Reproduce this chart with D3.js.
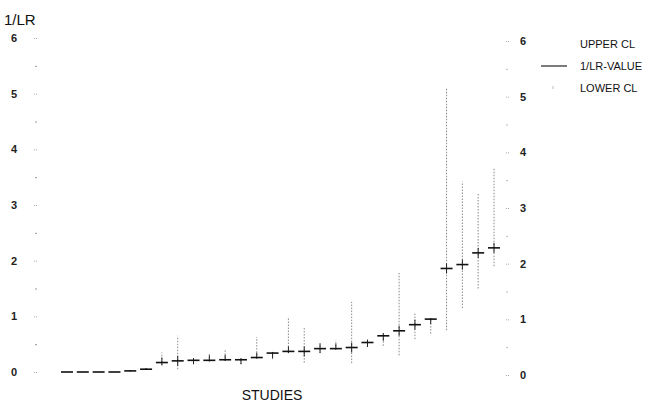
<!DOCTYPE html>
<html><head><meta charset="utf-8">
<script src="https://cdn.jsdelivr.net/npm/d3@7"></script>
<style>body{margin:0;background:#fff;}svg{display:block;font-family:"Liberation Sans",Arial,sans-serif;}</style>
</head><body>
<script>
const studies = d3.range(1, 29).map(String);
const values = [0.00,0.00,0.00,0.00,0.02,0.05,0.17,0.20,0.21,0.21,0.22,0.22,0.26,0.34,0.37,0.37,0.42,0.42,0.44,0.53,0.65,0.74,0.85,0.95,1.86,1.93,2.14,2.23];
const upperCL = [0.00,0.00,0.00,0.00,0.03,0.07,0.35,0.65,0.25,0.35,0.41,0.25,0.63,0.36,0.99,0.80,0.52,0.57,1.26,0.58,0.70,1.78,1.06,0.97,5.10,3.42,3.20,3.66];
const lowerCL = [0.00,0.00,0.00,0.00,0.01,0.04,0.12,0.05,0.14,0.19,0.20,0.14,0.24,0.23,0.34,0.17,0.34,0.40,0.16,0.45,0.47,0.30,0.59,0.69,0.75,1.15,1.50,1.90];
const yTicks = [0,1,2,3,4,5,6];
const yMinor = [0.5,1.5,2.5,3.5,4.5,5.5];
const legendItems = ["UPPER CL","1/LR-VALUE","LOWER CL"];

const W = 660, H = 402;
const svg = d3.select("body").append("svg").attr("width", W).attr("height", H);
const x = d3.scalePoint().domain(studies).range([67, 494]);
const y = d3.scaleLinear().domain([0, 6]).range([372, 38]);

// left axis
const left = svg.append("g").attr("transform", "translate(37,0)")
  .call(d3.axisLeft(y).tickValues(yTicks).tickSize(3).tickPadding(17).tickFormat(d3.format("d")));
left.select(".domain").remove();
left.selectAll(".tick line").attr("stroke", "#aaa").attr("stroke-dasharray", "1,1");
left.selectAll(".tick text").attr("font-size", 11).attr("font-weight", "bold").attr("fill", "#222");
svg.append("g").attr("transform", "translate(37,0)")
  .call(d3.axisLeft(y).tickValues(yMinor).tickSize(2).tickFormat(""))
  .call(g => g.select(".domain").remove())
  .selectAll(".tick line").attr("stroke", "#999");

// right axis
const right = svg.append("g").attr("transform", "translate(506,3)")
  .call(d3.axisRight(y).tickValues(yTicks).tickSize(3).tickPadding(11).tickFormat(d3.format("d")));
right.select(".domain").remove();
right.selectAll(".tick line").attr("stroke", "#aaa").attr("stroke-dasharray", "1,1");
right.selectAll(".tick text").attr("font-size", 11).attr("font-weight", "bold").attr("fill", "#222");
svg.append("g").attr("transform", "translate(506,3)")
  .call(d3.axisRight(y).tickValues(yMinor).tickSize(2).tickFormat(""))
  .call(g => g.select(".domain").remove())
  .selectAll(".tick line").attr("stroke", "#bbb");

// title and x label
svg.append("text").attr("x", 4).attr("y", 25).attr("font-size", 15).attr("fill", "#111").text("1/LR");
svg.append("text").attr("x", 272).attr("y", 400).attr("text-anchor", "middle").attr("font-size", 14).attr("fill", "#111").text("STUDIES");

// data
const data = studies.map((s, i) => ({s, v: values[i], u: upperCL[i], l: lowerCL[i]}));
const g = svg.append("g");
g.selectAll("line.ci").data(data).join("line").attr("class", "ci")
  .attr("x1", d => x(d.s)).attr("x2", d => x(d.s))
  .attr("y1", d => y(d.l)).attr("y2", d => y(d.u))
  .attr("stroke", "#888").attr("stroke-width", 1).attr("stroke-dasharray", "1.5,1.5");
g.selectAll("line.mid").data(data).join("line").attr("class", "mid")
  .attr("x1", d => x(d.s)).attr("x2", d => x(d.s))
  .attr("y1", d => Math.max(y(d.u), y(d.v) - 5)).attr("y2", d => Math.min(y(d.l), y(d.v) + 5))
  .attr("stroke", "#222").attr("stroke-width", 1);
g.selectAll("line.val").data(data).join("line").attr("class", "val")
  .attr("x1", d => x(d.s) - 6).attr("x2", d => x(d.s) + 6)
  .attr("y1", d => y(d.v)).attr("y2", d => y(d.v))
  .attr("stroke", "#111").attr("stroke-width", 1.6);

// legend
const lg = svg.append("g");
lg.selectAll("text").data(legendItems).join("text")
  .attr("x", 580).attr("y", (d, i) => 48 + i * 22)
  .attr("font-size", 11).attr("fill", "#111").text(d => d);
lg.append("line").attr("x1", 541).attr("x2", 567).attr("y1", 66).attr("y2", 66).attr("stroke", "#111").attr("stroke-width", 1.1);
lg.append("line").attr("x1", 553).attr("x2", 553).attr("y1", 86).attr("y2", 89).attr("stroke", "#bbb").attr("stroke-width", 1);
</script>
</body></html>
